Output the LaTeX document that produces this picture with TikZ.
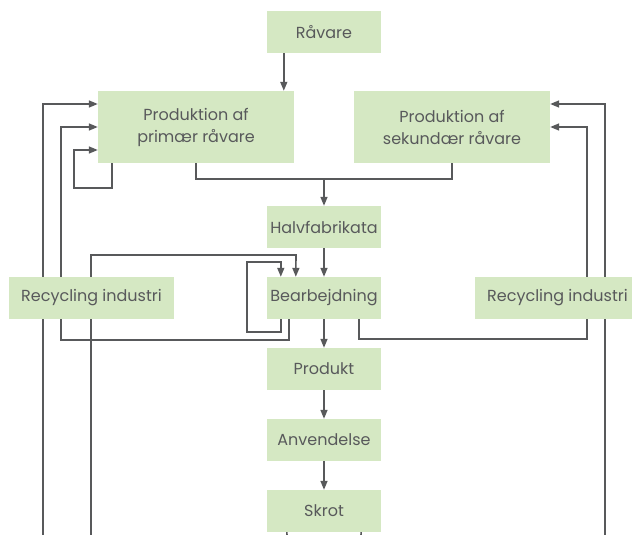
\documentclass[tikz,border=0pt]{standalone}
\usepackage{fontspec}
\setmainfont{Poppins}
\usetikzlibrary{arrows.meta,backgrounds,calc}
\definecolor{boxgreen}{HTML}{D5E8C3}
\definecolor{linegray}{HTML}{58595B}
\definecolor{textgray}{HTML}{58595B}
\begin{document}
\begin{tikzpicture}[x=1pt,y=-1pt,
  box/.style={fill=boxgreen,draw=none,inner sep=0pt,minimum width=114pt,minimum height=42pt,
    text=textgray,font=\fontsize{16}{22}\selectfont,align=center},
  widebox/.style={box,minimum width=196pt,minimum height=72pt},
  recbox/.style={box,minimum width=165pt},
  conn/.style={draw=linegray,line width=1.6pt},
  arr/.style={conn,-{Triangle[length=9pt,width=7pt]}}]
\useasboundingbox (0,0) rectangle (632,535);
\clip (0,0) rectangle (632,535);
\node[box] (raa) at (324,32) {Råvare};
\node[widebox] (prim) at (196,127) {Produktion af\\primær råvare};
\node[widebox] (sek) at (452,127) {Produktion af\\sekundær råvare};
\node[box] (halv) at (324,227) {Halvfabrikata};
\node[box] (bear) at (324,298) {Bearbejdning};
\node[recbox] (recL) at (91.5,298) {Recycling industri};
\node[recbox] (recR) at (557.5,298) {Recycling industri};
\node[box] (prod) at (324,369) {Produkt};
\node[box] (anv) at (324,440) {Anvendelse};
\node[box] (skrot) at (324,511) {Skrot};
\coordinate (endA) at (43,535);
\coordinate (endB) at (91,535);
\coordinate (endC) at (605,535);
\coordinate (endD) at (287,535);
\coordinate (endE) at (361,535);
\coordinate (merge) at (324,179);
\begin{pgfonlayer}{background}
% main chain
\draw[arr] ([xshift=17pt]raa.south west) -- ([xshift=17pt]raa.south west |- prim.north);
\draw[conn] (prim.south) -- ++(0,16) -| (sek.south);
\draw[arr] (merge) -- (halv.north);
\draw[arr] (halv) -- (bear);
\draw[arr] (bear) -- (prod);
\draw[arr] (prod) -- (anv);
\draw[arr] (anv) -- (skrot);
% primary self-loop
\draw[arr] ([xshift=14pt]prim.south west) -- ++(0,25) -| (74,150) -- ([yshift=-23pt]prim.west);
% long returns into primary
\draw[arr] (endA) |- ([yshift=23pt]prim.west);
\draw[arr] ([xshift=22pt]bear.south west) -- ++(0,21) -| (61,127) -- (prim.west);
% return into Bearbejdning
\draw[arr] (endB) |- (296,255) -- ([xshift=29pt]bear.north west);
\draw[arr] ([xshift=14pt]bear.south west) -- ++(0,13) -| (247,262) -| ([xshift=14pt]bear.north west);
% returns into secondary
\draw[arr] ([xshift=-22pt]bear.south east) -- ++(0,20) -| (587,127) -- (sek.east);
\draw[arr] (endC) |- ([yshift=23pt]sek.east);
% scrap outputs
\draw[conn] ([xshift=20pt]skrot.south west) -- (endD);
\draw[conn] ([xshift=-20pt]skrot.south east) -- (endE);
\end{pgfonlayer}
\end{tikzpicture}
\end{document}
